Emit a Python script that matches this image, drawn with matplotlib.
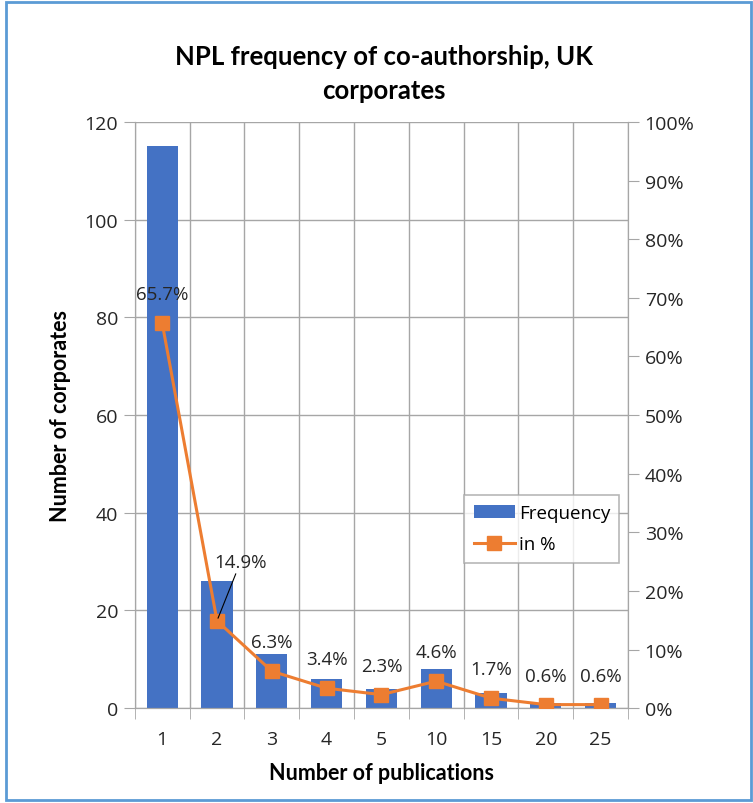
import matplotlib.pyplot as plt
import numpy as np
from matplotlib.patches import Rectangle

# datos
categorias = ["1", "2", "3", "4", "5", "10", "15", "20", "25"]
frecuencia = [115, 26, 11, 6, 4, 8, 3, 1, 1]
porcentaje = [65.7, 14.9, 6.3, 3.4, 2.3, 4.6, 1.7, 0.6, 0.6]
etiquetas = ["65.7%", "14.9%", "6.3%", "3.4%", "2.3%", "4.6%", "1.7%", "0.6%", "0.6%"]

azul = "#4472C4"
naranja = "#ED7D31"
gris = "#A6A6A6"

fig = plt.figure(figsize=(7.53, 8.04), dpi=100)
ax = fig.add_axes([0.179, 0.118, 0.655, 0.729])
ax2 = ax.twinx()

x = np.arange(len(categorias))
ax.bar(x, frecuencia, width=0.57, color=azul, label="Frequency", zorder=2)
ax2.plot(x, porcentaje, color=naranja, lw=2.2, marker="s", ms=10,
         label="in %", zorder=3)

ax.set_xlim(-0.5, len(categorias) - 0.5)
ax.set_ylim(0, 120)
ax2.set_ylim(0, 100)
ax.set_yticks(np.arange(0, 121, 20))
ax2.set_yticks(np.arange(0, 101, 10))
ax2.set_yticklabels([f"{v}%" for v in range(0, 101, 10)])

ax.set_xticks(x)
ax.set_xticklabels(categorias)
ax.set_xticks(np.arange(-0.5, len(categorias), 1), minor=True)
ax.tick_params(axis="x", which="major", length=0, pad=16)
ax.tick_params(axis="x", which="minor", length=8, color=gris, direction="out")
ax.tick_params(axis="y", length=8, color=gris, pad=4)
ax2.tick_params(axis="y", length=8, color=gris, pad=4)

for t in ax.get_xticklabels() + ax.get_yticklabels() + ax2.get_yticklabels():
    t.set_fontfamily("Open Sans")
    t.set_fontsize(14)
    t.set_color("#262626")

# rejilla
ax.grid(axis="y", color=gris, lw=1, zorder=0)
ax.grid(axis="x", which="minor", color=gris, lw=1, zorder=0)
ax.set_axisbelow(True)
for a in (ax, ax2):
    for s in a.spines.values():
        s.set_color(gris)
    a.spines["top"].set_visible(False)

# etiquetas de datos
for i, (p, txt) in enumerate(zip(porcentaje, etiquetas)):
    if i == 1:
        ax2.annotate(txt, xy=(i, p), xytext=(i - 0.05, p + 8.5), ha="left",
                     va="bottom", fontsize=13.5, family="Open Sans", color="#262626",
                     arrowprops=dict(arrowstyle="-", color="black", lw=0.8,
                                     shrinkA=0, shrinkB=2))
    else:
        ax2.text(i, p + 3.4, txt, ha="center", va="bottom", fontsize=13.5,
                 family="Open Sans", color="#262626", zorder=4)

ax.set_xlabel("Number of publications", family="Lato", fontsize=15.5,
              fontweight="bold", labelpad=10)
ax.set_ylabel("Number of corporates", family="Lato", fontsize=15.5,
              fontweight="bold", labelpad=10)
fig.text(0.51, 0.908, "NPL frequency of co-authorship, UK\ncorporates",
         ha="center", va="center", family="Lato", fontsize=18.5,
         fontweight="bold", linespacing=1.5)

h1, l1 = ax.get_legend_handles_labels()
h2, l2 = ax2.get_legend_handles_labels()
leg = ax2.legend(h1 + h2, l1 + l2, loc="lower left",
                 bbox_to_anchor=(0.649, 0.232), fancybox=False,
                 edgecolor=gris, prop=dict(family="Open Sans", size=13.5),
                 handlelength=2.2, handletextpad=0.2, borderpad=0.5,
                 labelspacing=0.7)
leg.get_frame().set_linewidth(1.2)

# marco exterior
fig.patches.append(Rectangle((0.008, 0.004), 0.99, 0.992, transform=fig.transFigure,
                             fill=False, edgecolor="#5B9BD5", lw=2))

fig.savefig("out.png", dpi=100)
